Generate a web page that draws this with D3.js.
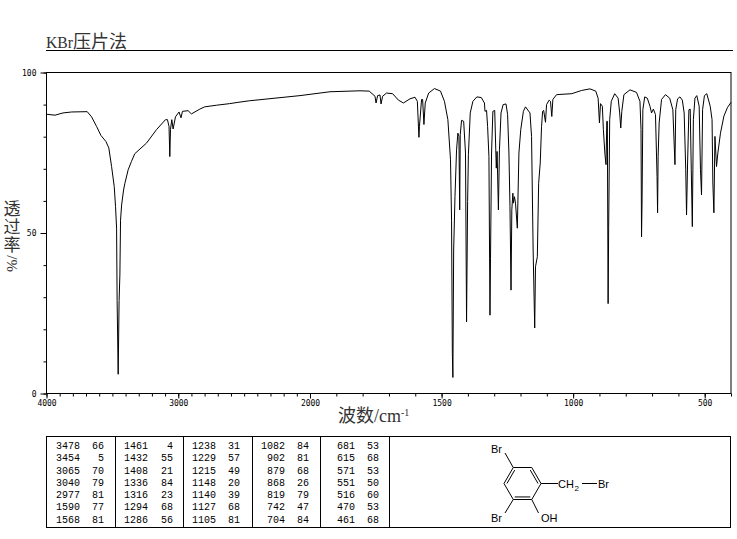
<!DOCTYPE html>
<html>
<head>
<meta charset="utf-8">
<script src="https://cdnjs.cloudflare.com/ajax/libs/d3/7.8.5/d3.min.js"></script>
<style>
html,body{margin:0;padding:0;background:#fff}
svg{display:block}
text{fill:#000}
.mono{font-family:"Liberation Mono","DejaVu Sans Mono",monospace;font-size:10px}
.tick text{font-family:"DejaVu Sans Mono",monospace;font-size:8px;fill:#000}
.cjk{font-family:"Noto Sans CJK SC";fill:#333}
.serif{font-family:"Liberation Serif",serif;fill:#333}
.struct{font-family:"Liberation Sans",sans-serif;font-size:11px}
</style>
</head>
<body>
<svg id="c" width="737" height="539"></svg>
<script>
const wavenumbers=[4000,3936,3875,3809,3691,3658,3620,3587,3549,3527,3506,3486,3476,3468,3464,3456,3449,3443,3438,3430,3415,3405,3380,3355,3330,3241,3165,3097,3082,3070,3064,3059,3049,3039,3021,2994,2979,2968,2925,2900,2836,2799,2711,2610,2547,2458,2076,1924,1810,1775,1753,1749,1743,1734,1730,1724,1709,1686,1664,1645,1620,1601,1592,1586,1584,1576,1572,1567,1562,1549,1527,1504,1489,1476,1466,1462,1459,1457,1456,1454,1449,1443,1438,1434,1431,1429,1424,1416,1409,1405,1401,1398,1391,1381,1366,1349,1337,1335,1329,1325,1320,1316,1314,1310,1305,1298,1294,1292,1289,1284,1280,1274,1266,1255,1249,1244,1240,1236,1233,1229,1227,1223,1219,1212,1206,1199,1189,1181,1164,1158,1152,1146,1143,1136,1131,1125,1120,1116,1112,1105,1101,1091,1086,1081,1077,1063,1005,968,936,914,905,900,896,889,885,879,875,872,870,867,865,861,855,842,829,823,819,815,807,784,759,746,742,740,738,735,728,718,708,702,695,687,681,679,677,673,664,649,633,621,613,610,603,594,585,578,572,569,565,560,555,551,547,543,537,530,521,516,512,508,501,492,479,472,469,465,461,455,450,440,427,414,400];
const transmittance=[87,86.7,87.4,87.7,87.8,86.2,83.2,80.4,78.5,76.5,70.7,64.5,58.2,51.5,29,6,29,36.9,54,58.7,63.4,65.5,69.7,72.3,74.7,78,82.2,85.3,85.3,83.2,73.8,82.2,85.3,82.4,86.2,87.7,85.9,87.9,88.1,87.1,88.6,89.3,89.8,90.3,90.7,91.2,92.8,94,94.3,94.2,92.6,90.5,92.8,93,90.2,92.6,93.6,93.4,91.4,90.5,91.8,92.3,91,79.8,83.2,91.6,91.6,83.8,90.5,93.6,95,94.2,91,85.3,72.8,54,12.5,5,17.6,44.7,61.3,75.9,81.1,80.1,57.2,80.6,85.1,84.8,74.9,22.3,59.8,74.4,87.4,91,92.4,92.2,90.5,87.9,88.2,83.2,73.8,24.4,42,74.9,87.9,88.2,75.9,70.2,75.4,57.2,75.9,87.4,90,90.2,86.9,74.9,58.2,32.2,57.2,62.4,59.3,61.3,59.3,51.5,74.9,82.2,87.9,89.3,87.4,80.1,44.7,20.4,39.5,42.6,65.5,71.8,83.2,87.9,88.2,84.5,90,91.4,91,86.3,91.6,93.1,93.4,94.4,94.9,94.2,92,84.3,90.3,89.5,82.2,74.4,71.3,84.8,84.8,28,51.5,85.3,91,93.4,92,87.4,82.7,87.9,93.1,94.6,93.8,91,82.2,48.8,60.3,88.4,92.4,92,89.5,87.4,88.6,86.9,67.6,56.3,73.8,84.3,91.6,93.1,92,88.4,71.3,88.4,91.8,92.4,91.4,87.4,69.7,55.6,71.8,88.4,88.6,69.7,52,85.3,92,92.8,89.5,69.7,61.9,88.4,92.8,93.4,89.5,85.3,65.6,56.3,80.1,70.7,74.9,81.1,86.4,89,90.7];

const peakWavenumbers=[[3478,3454,3065,3040,2977,1590,1568],[1461,1432,1408,1336,1316,1294,1286],[1238,1229,1215,1148,1140,1127,1105],[1082,902,879,868,819,742,704],[681,615,571,551,516,470,461]];
const peakValues=[[66,5,70,79,81,77,81],[4,55,21,84,23,68,56],[31,57,49,20,39,68,81],[84,81,68,26,79,47,84],[53,68,53,50,60,53,68]];

const xMajor=[4000,3000,2000,1500,1000,500];
const xMinor=d3.range(4000,399,-100);
const yMajor=[0,50,100];
const yMinor=d3.range(0,101,10);

const svg=d3.select("#c");
const x=d3.scaleLinear().domain([4000,2000,400]).range([46.5,310,731]);
const y=d3.scaleLinear().domain([0,100]).range([393.5,72.5]);

// title
const title=svg.append("text").attr("x",46).attr("y",48);
title.append("tspan").attr("class","serif").attr("font-size",17).attr("textLength",27).attr("lengthAdjust","spacingAndGlyphs").text("KBr");
title.append("tspan").attr("class","cjk").attr("font-size",18).text("压片法");
svg.append("line").attr("x1",46).attr("x2",733).attr("y1",50.5).attr("y2",50.5).attr("stroke","#000");

// frame
svg.append("rect").attr("x",46.5).attr("y",72.5).attr("width",684.5).attr("height",321)
  .attr("fill","none").attr("stroke","#000");

// axes
const gx=svg.append("g").attr("transform","translate(0,393.5)");
gx.append("g").call(d3.axisBottom(x).tickValues(xMinor).tickSize(3).tickFormat("")).call(g=>g.select(".domain").remove());
gx.append("g").call(d3.axisBottom(x).tickValues(xMajor).tickSize(5).tickPadding(2).tickFormat(d3.format("d"))).call(g=>g.select(".domain").remove());
const gy=svg.append("g").attr("transform","translate(46.5,0)");
gy.append("g").call(d3.axisLeft(y).tickValues(yMinor).tickSize(3).tickFormat("")).call(g=>g.select(".domain").remove());
gy.append("g").call(d3.axisLeft(y).tickValues(yMajor).tickSize(6).tickPadding(4).tickFormat(d3.format("d"))).call(g=>g.select(".domain").remove());

// spectrum
const line=d3.line().x(d=>x(d[0])).y(d=>y(d[1]));
svg.append("path").datum(d3.zip(wavenumbers,transmittance)).attr("d",line)
  .attr("fill","none").attr("stroke","#000").attr("stroke-width",1).attr("stroke-linejoin","miter");

// y title
svg.append("text").attr("class","cjk").attr("font-size",17)
  .style("writing-mode","vertical-rl").style("letter-spacing","1px")
  .attr("x",12).attr("y",200).text("透过率");
svg.append("text").attr("class","serif").attr("font-size",15)
  .attr("transform","translate(17,272) rotate(-90)").text("%/");

// x title
const xt=svg.append("text").attr("x",338).attr("y",422);
xt.append("tspan").attr("class","cjk").attr("font-size",18).text("波数");
xt.append("tspan").attr("class","serif").attr("font-size",18).text("/cm");
xt.append("tspan").attr("class","serif").attr("font-size",10).attr("dy",-6).text("-1");

// table
svg.append("rect").attr("x",46.5).attr("y",436.5).attr("width",684).attr("height",91)
  .attr("fill","none").attr("stroke","#000");
const dividers=[115.5,183.5,252.5,320.5,389.5];
svg.selectAll("line.div").data(dividers).join("line").attr("class","div")
  .attr("x1",d=>d).attr("x2",d=>d).attr("y1",436.5).attr("y2",527.5).attr("stroke","#000");
const colW=[80,148,216,285,355], colT=[104,173,240,309,379];
peakWavenumbers.forEach((col,i)=>col.forEach((w,j)=>{
  const yy=449+j*12.25;
  svg.append("text").attr("class","mono").attr("text-anchor","end").attr("x",colW[i]).attr("y",yy).text(w);
  svg.append("text").attr("class","mono").attr("text-anchor","end").attr("x",colT[i]).attr("y",yy).text(peakValues[i][j]);
}));

// structure
const cx=522.5, cy=483.5, rx=18.5, ry=16;
const hex=[[-.5,-1],[.5,-1],[1,0],[.5,1],[-.5,1],[-1,0]].map(p=>[cx+p[0]*rx,cy+p[1]*ry]);
const S=svg.append("g").attr("stroke","#000").attr("stroke-width",1).attr("fill","none");
const seg=(a,b)=>S.append("line").attr("x1",a[0]).attr("y1",a[1]).attr("x2",b[0]).attr("y2",b[1]);
hex.forEach((p,i)=>seg(p,hex[(i+1)%6]));
const inner=(a,b)=>{const k=.84;const m=p=>[cx+(p[0]-cx)*k,cy+(p[1]-cy)*k];seg(m(a),m(b));};
inner(hex[5],hex[0]);inner(hex[1],hex[2]);inner(hex[3],hex[4]);
seg(hex[0],[505,453]);seg(hex[2],[558,cy]);seg([582,cy],[597,cy]);
seg(hex[4],[505,513]);seg(hex[3],[538.5,513]);
const label=(t,xx,yy)=>svg.append("text").attr("class","struct").attr("x",xx).attr("y",yy).text(t);
label("Br",491,453);label("CH",558,488);
svg.append("text").attr("class","struct").style("font-size","8px").attr("x",574.5).attr("y",491).text("2");
label("Br",598,488);label("Br",491,522);label("OH",541,522);
</script>
</body>
</html>
